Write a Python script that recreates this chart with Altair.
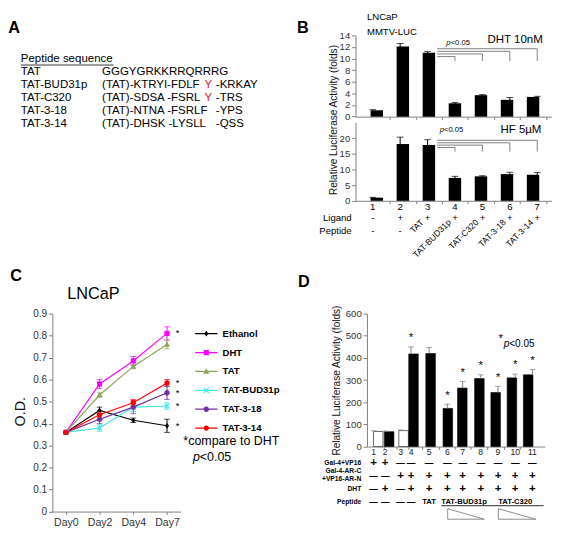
import math
import altair as alt
import pandas as pd

K = 0.97


def p(v):
    return round(v * K, 2)


FONT = "Liberation Sans"
GRAY = "#808080"

# ---------------- Panel A: peptide sequences ----------------
pep_names = ["TAT", "TAT-BUD31p", "TAT-C320", "TAT-3-18", "TAT-3-14"]
pep_head = ["GGGYGRKKRRQRRRG", "(TAT)-KTRYI-FDLF", "(TAT)-SDSA -FSRL",
            "(TAT)-NTNA -FSRLF", "(TAT)-DHSK -LYSLL"]
pep_red = ["", "Y", "Y", "", ""]
pep_tail = ["", "-KRKAY", "-TRS", "-YPS", "-QSS"]

# ---------------- Panel B: MMTV-LUC luciferase ----------------
b_lanes = [1, 2, 3, 4, 5, 6, 7]
b_dht_val = [1.1, 12.1, 11.0, 2.3, 3.7, 2.9, 3.4]
b_dht_err = [0.1, 0.5, 0.2, 0.15, 0.1, 0.4, 0.1]
b_hf_val = [1.0, 18.1, 17.8, 7.3, 7.8, 8.5, 8.3]
b_hf_err = [0.1, 2.2, 1.7, 0.5, 0.2, 0.6, 0.7]
b_ligand = ["-", "+", "+", "+", "+", "+", "+"]
b_peptide = ["-", "-", "TAT", "TAT-BUD31p", "TAT-C320", "TAT-3-18", "TAT-3-14"]
b_sig_from = 3
b_sig_lanes = [4, 5, 6, 7]
b_sig_dht_level = [10.35, 10.8, 11.25, 11.7]
b_sig_hf_level = [17.0, 17.75, 18.5, 19.3]
b_sig_dht_end = 9.6
b_sig_hf_end = 15.7

# ---------------- Panel C: LNCaP growth ----------------
c_days = ["Day0", "Day2", "Day4", "Day7"]
c_series = ["Ethanol", "DHT", "TAT", "TAT-BUD31p", "TAT-3-18", "TAT-3-14"]
c_od = [
    [0.36, 0.46, 0.415, 0.39],
    [0.36, 0.58, 0.685, 0.81],
    [0.36, 0.53, 0.66, 0.76],
    [0.36, 0.38, 0.475, 0.48],
    [0.36, 0.42, 0.475, 0.54],
    [0.36, 0.44, 0.495, 0.585],
]
c_err = [
    [0, 0.015, 0.01, 0.03],
    [0, 0.02, 0.02, 0.03],
    [0, 0.01, 0.01, 0.02],
    [0, 0.015, 0.02, 0.015],
    [0, 0.02, 0.03, 0.03],
    [0, 0.02, 0.015, 0.015],
]
c_star = [True, True, False, True, True, True]
c_colors = ["#000000", "#FF00FF", "#8EA45A", "#3CE6F0", "#7030A0", "#FF0000"]

# ---------------- Panel D: two-hybrid luciferase ----------------
d_lanes = list(range(1, 12))
d_slot = [1, 1.67, 2.56, 3.17, 4.22, 5.28, 6.17, 7.22, 8.22, 9.22, 10.22]
d_val = [68, 67, 72, 418, 420, 172, 264, 307, 244, 310, 324]
d_err = [3, 3, 3, 32, 27, 19, 30, 17, 28, 17, 24]
d_gal_vp16 = ["+", "+"] + ["—"] * 9
d_gal_ar = ["—", "—"] + ["+"] * 9
d_dht = ["—", "+", "—"] + ["+"] * 8
d_peptide = ["—"] * 4 + ["TAT"] + [""] * 6
d_sig = [False, False, False, True, False, True, True, True, True, True, True]
d_groups = ["TAT-BUD31p", "TAT-C320"]
d_group_first = [6, 9]
d_group_last = [8, 11]


def label(text, x, y, size, weight="normal", align="center", style="normal", color="black"):
    return alt.Chart(pd.DataFrame({"t": [text]})).mark_text(
        align=align, baseline="middle", fontSize=p(size), fontWeight=weight,
        fontStyle=style, color=color, font=FONT,
    ).encode(text="t:N", x=alt.value(p(x)), y=alt.value(p(y)))


# ======================= A (also carries the B-panel cell-line caption) =======================
a_df = pd.DataFrame({"name": pep_names, "head": pep_head, "red": pep_red, "tail": pep_tail})
a_y = alt.Y("name:N", sort=pep_names, axis=None,
            scale=alt.Scale(type="point", range=[p(38), p(93)], padding=0))
a_base = alt.Chart(a_df).mark_text(align="left", baseline="middle", fontSize=p(12), font=FONT)
A = alt.layer(
    label("A", -40, -8, 17, "bold"),
    label("Peptide sequence", -33, 25, 12, align="left"),
    alt.Chart(pd.DataFrame({"t": [0]})).mark_rule(color="black", strokeWidth=0.8).encode(
        x=alt.value(p(-33)), x2=alt.value(p(64)), y=alt.value(p(31))),
    a_base.encode(x=alt.value(p(-33)), y=a_y, text="name:N"),
    a_base.encode(x=alt.value(p(52)), y=a_y, text="head:N"),
    a_base.encode(x=alt.value(p(159)), y=a_y, text="red:N", color=alt.value("#E02028")),
    a_base.encode(x=alt.value(p(171)), y=a_y, text="tail:N"),
    label("LNCaP", 329, -19, 10, align="left"),
    label("MMTV-LUC", 329, -4, 10, align="left"),
).properties(width=p(134), height=p(173))

# ======================= B =======================
b_df = pd.DataFrame({"lane": b_lanes, "dht": b_dht_val, "dht_err": b_dht_err,
                     "hf": b_hf_val, "hf_err": b_hf_err,
                     "ligand": b_ligand, "peptide": b_peptide})
br_df = pd.DataFrame({"to": b_sig_lanes, "dht_lvl": b_sig_dht_level, "hf_lvl": b_sig_hf_level})
br_df["start"] = b_sig_from + 0.35
br_df["dht_end"] = b_sig_dht_end
br_df["hf_end"] = b_sig_hf_end
WB, HB = p(193), p(173)
HB_TOP, HB_BOT0 = p(85), p(91)
xB = alt.Scale(domain=[0.37, 7.52], range=[-p(12), WB], nice=False, zero=False)
yBt = alt.Scale(domain=[0, 14], range=[HB_TOP, 0], nice=False)
yBb = alt.Scale(domain=[0, 25], range=[HB, HB_BOT0], nice=False)
b_between = [l + 0.5 for l in b_lanes]


def b_subplot(field, err_field, lvl_field, end_field, yscale, yaxis, xaxis):
    base = alt.Chart(b_df)
    xe = alt.X("lane:Q", scale=xB, axis=None)
    bars = base.mark_bar(color="black", size=p(13)).encode(
        x=alt.X("lane:Q", scale=xB, axis=xaxis),
        y=alt.Y(f"{field}:Q", scale=yscale, axis=yaxis))
    ranged = base.transform_calculate(
        lo=f"datum.{field} - datum.{err_field}", hi=f"datum.{field} + datum.{err_field}")
    errs = ranged.mark_rule(color="black", strokeWidth=1).encode(
        x=xe, y=alt.Y("lo:Q", scale=yscale, axis=None), y2="hi:Q")
    caps = ranged.mark_tick(orient="horizontal", color="black", thickness=1, size=p(7)).encode(
        x=xe, y=alt.Y("hi:Q", scale=yscale, axis=None))
    hbr = alt.Chart(br_df).mark_rule(color=GRAY, strokeWidth=1).encode(
        x=alt.X("start:Q", scale=xB, axis=None), x2="to:Q",
        y=alt.Y(f"{lvl_field}:Q", scale=yscale, axis=None))
    vbr = alt.Chart(br_df).mark_rule(color=GRAY, strokeWidth=1).encode(
        x=alt.X("to:Q", scale=xB, axis=None),
        y=alt.Y(f"{lvl_field}:Q", scale=yscale, axis=None),
        y2=f"{end_field}:Q")
    return [bars, errs, caps, hbr, vbr]


ax_lab = dict(labelFontSize=p(10), tickSize=p(4), labelPadding=p(2), labelOverlap=False,
              offset=p(12))
rows_b = alt.Chart(b_df)
xBr = alt.X("lane:Q", scale=xB, axis=None)
B = alt.layer(
    *b_subplot(
        "dht", "dht_err", "dht_lvl", "dht_end", yBt,
        alt.Axis(orient="left", values=list(range(0, 15, 2)),
                 title="Relative Luciferase Activity (folds)", titleX=p(-23), titleY=p(88),
                 titleAngle=270, titleAlign="center", titleBaseline="middle",
                 titleFontSize=p(10.5), **ax_lab),
        alt.Axis(orient="bottom", values=b_between, labels=False, title=None,
                 tickSize=p(3), offset=-(HB - HB_TOP))),
    *b_subplot(
        "hf", "hf_err", "hf_lvl", "hf_end", yBb,
        alt.Axis(orient="left", values=list(range(0, 21, 5)), title=None, **ax_lab),
        alt.Axis(orient="bottom", values=b_between, labels=False, title=None, tickSize=p(3))),
    label("B", -67, -8, 17, "bold"),
    label("DHT 10nM", 155, 5, 12),
    label("p", 83, 8, 8, style="italic", align="left"),
    label("<0.05", 87.5, 8, 8, align="left"),
    label("HF 5µM", 161, 99, 12),
    label("p", 76, 99, 8, style="italic", align="left"),
    label("<0.05", 80.5, 99, 8, align="left"),
    rows_b.mark_text(fontSize=p(10), baseline="middle", font=FONT).encode(
        x=xBr, y=alt.value(p(180)), text="lane:Q"),
    rows_b.mark_text(fontSize=p(10), baseline="middle", font=FONT).encode(
        x=xBr, y=alt.value(p(191)), text="ligand:N"),
    rows_b.transform_filter("datum.peptide == '-'").mark_text(
        fontSize=p(10), baseline="middle", font=FONT).encode(
        x=xBr, y=alt.value(p(205)), text="peptide:N"),
    rows_b.transform_filter("datum.peptide != '-'").transform_calculate(
        lx="datum.lane - 0.2").mark_text(
        angle=315, align="right", baseline="middle", fontSize=p(9), font=FONT).encode(
        x=alt.X("lx:Q", scale=xB, axis=None), y=alt.value(p(194)), text="peptide:N"),
    label("Ligand", -16, 191, 10, align="right"),
    label("Peptide", -16, 205, 10, align="right"),
).resolve_scale(x="independent", y="independent").properties(width=WB, height=HB)

# ======================= C =======================
c_rows = []
for si, s in enumerate(c_series):
    for di, d in enumerate(c_days):
        c_rows.append({"series": s, "day": d, "od": c_od[si][di],
                       "err": c_err[si][di], "star": c_star[si]})
c_df = pd.DataFrame(c_rows)

mk_diamond = "M0,-1L0.72,0L0,1L-0.72,0Z"
mk_square = "M-0.9,-0.9H0.9V0.9H-0.9Z"
mk_triangle = "M0,-1.1L1.05,0.8H-1.05Z"
mk_x = ("M-1,-0.72L-0.72,-1L0,-0.28L0.72,-1L1,-0.72L0.28,0L1,0.72L0.72,1"
        "L0,0.28L-0.72,1L-1,0.72L-0.28,0Z")
mk_circle = "M-0.95,0A0.95,0.95,0,1,1,0.95,0A0.95,0.95,0,1,1,-0.95,0Z"
c_markers = [mk_diamond, mk_square, mk_triangle, mk_x, mk_circle, mk_circle]
seg = "M-3.9,-0.22H3.9V0.22H-3.9Z "
c_legend_symbols = [seg + m for m in c_markers]

WC, HC = p(134), p(207)
xC = alt.Scale(type="point", domain=c_days, padding=0.4)
yC = alt.Scale(domain=[0, 0.9], nice=False)
colC = alt.Scale(domain=c_series, range=c_colors)
cX_axis = alt.X("day:N", sort=c_days, scale=xC, axis=alt.Axis(
    orient="bottom", title=None, labelAngle=0, labelOverlap=False,
    labelFontSize=p(11), tickSize=p(3), labelPadding=p(3)))
cY_axis = alt.Y("od:Q", scale=yC, axis=alt.Axis(
    orient="left", values=[round(i * 0.1, 1) for i in range(10)], format=".1~f",
    title="O.D.", titleFontSize=p(15), titleX=p(-33), titleY=p(102), titleAngle=270,
    titleAlign="center", titleBaseline="middle", labelFontSize=p(10.5), tickSize=p(4),
    labelPadding=p(2), labelOverlap=False))
cX = alt.X("day:N", sort=c_days, scale=xC, axis=None)
cY = alt.Y("od:Q", scale=yC, axis=None)
cCol = alt.Color("series:N", scale=colC, legend=None)

c_base = alt.Chart(c_df)
c_rng = c_base.transform_filter("datum.err > 0").transform_calculate(
    lo="datum.od - datum.err", hi="datum.od + datum.err")
leg = alt.Legend(title=None, orient="none", legendX=p(156), legendY=p(16), padding=0,
                 labelFont=FONT, labelFontWeight="bold", labelFontSize=p(10),
                 labelColor="black", symbolSize=36 * K * K, symbolStrokeWidth=0,
                 symbolOpacity=1, labelOffset=p(12), rowPadding=p(8.4))
C = alt.layer(
    c_base.mark_line(strokeWidth=p(1.2)).encode(x=cX_axis, y=cY_axis, color=cCol),
    c_rng.mark_rule(strokeWidth=1).encode(
        x=cX, y=alt.Y("lo:Q", scale=yC, axis=None), y2="hi:Q", color=cCol),
    c_rng.mark_tick(orient="horizontal", thickness=1, size=p(6)).encode(
        x=cX, y=alt.Y("lo:Q", scale=yC, axis=None), color=cCol),
    c_rng.mark_tick(orient="horizontal", thickness=1, size=p(6)).encode(
        x=cX, y=alt.Y("hi:Q", scale=yC, axis=None), color=cCol),
    c_base.mark_point(filled=True, opacity=1, size=36 * K * K).encode(
        x=cX, y=cY, color=cCol,
        shape=alt.Shape("series:N", scale=alt.Scale(domain=c_series, range=c_markers),
                        legend=None)),
    c_base.transform_filter("datum.star && datum.day == 'Day7'").mark_text(
        dx=p(11), baseline="middle", fontSize=p(10), font=FONT, color="black").encode(
        x=cX, y=cY, text=alt.value("*")),
    c_base.transform_filter("datum.err < 0").mark_point(filled=True, opacity=1).encode(
        x=cX, y=cY,
        fill=alt.Fill("series:N", scale=alt.Scale(domain=c_series, range=c_colors), legend=leg),
        shape=alt.Shape("series:N", scale=alt.Scale(domain=c_series, range=c_legend_symbols),
                        legend=leg)),
    label("C", -38, -39, 17, "bold"),
    label("LNCaP", 43, -20, 17),
    label("*compare to DHT", 137, 133, 13, align="left"),
    label("p", 147, 150, 13, style="italic", align="left"),
    label("<0.05", 154.2, 150, 13, align="left"),
).resolve_scale(x="independent", y="independent", shape="independent",
                fill="independent").properties(width=WC, height=HC)

# ======================= D =======================
d_df = pd.DataFrame({"lane": d_lanes, "slot": d_slot, "val": d_val, "err": d_err,
                     "gal_vp16": d_gal_vp16, "gal_ar": d_gal_ar, "dht": d_dht,
                     "peptide": d_peptide, "sig": d_sig})
g_rows = []
for name, f, l in zip(d_groups, d_group_first, d_group_last):
    s0, s1 = d_slot[f - 1], d_slot[l - 1]
    g_rows.append({"group": name, "mid": (s0 + s1) / 2, "u0": s0 - 0.35, "u1": s1 + 0.65,
                   "w0": s0 + 0.02, "w1": s1 + 0.2})
g_df = pd.DataFrame(g_rows)

WD, HD = p(186), p(139)
xD = alt.Scale(domain=[0.61, 10.94], nice=False, zero=False)
yD = alt.Scale(domain=[0, 600], nice=False)
d_mid = [round((a + b) / 2, 3) for a, b in zip(d_slot, d_slot[1:])]
dX = alt.X("slot:Q", scale=xD, axis=None)
d_base = alt.Chart(d_df)
d_rng = d_base.transform_calculate(hi="datum.val + datum.err")


def d_row(field, y):
    return d_base.mark_text(baseline="middle", fontWeight="bold", font=FONT).encode(
        x=dX, y=alt.value(p(y)), text=f"{field}:N",
        size=alt.condition(f"datum.{field} == '+'", alt.value(p(12)), alt.value(p(9))))


wedge_rule = alt.Chart(g_df).mark_rule(color="#707070", strokeWidth=0.8)
D = alt.layer(
    d_base.mark_bar(size=p(10), stroke="black", strokeWidth=0.6).encode(
        x=alt.X("slot:Q", scale=xD, axis=alt.Axis(
            orient="bottom", values=d_mid, labels=False, title=None, tickSize=p(3))),
        y=alt.Y("val:Q", scale=yD, axis=None),
        fill=alt.Fill("dht:N", scale=alt.Scale(domain=["—", "+"], range=["white", "black"]),
                      legend=None)),
    d_rng.mark_rule(color=GRAY, strokeWidth=1).encode(
        x=dX,
        y=alt.Y("val:Q", scale=yD, axis=alt.Axis(
            orient="left", values=list(range(0, 601, 100)),
            title="Relative Luciferase Activity (folds)", titlePadding=p(4),
            titleFontSize=p(10.5), labelFontSize=p(10), tickSize=p(4), labelPadding=p(2),
            labelOverlap=False)),
        y2="hi:Q"),
    d_rng.mark_tick(orient="horizontal", color=GRAY, thickness=1, size=p(6)).encode(
        x=dX, y=alt.Y("hi:Q", scale=yD, axis=None)),
    d_rng.transform_filter("datum.sig").mark_text(
        dy=-p(9), fontSize=p(12), baseline="middle", font=FONT, color="black").encode(
        x=dX, y=alt.Y("hi:Q", scale=yD, axis=None), text=alt.value("*")),
    d_base.mark_text(fontSize=p(9), baseline="middle", font=FONT, color="#222").encode(
        x=dX, y=alt.value(p(144.5)), text="lane:Q"),
    d_row("gal_vp16", 156),
    d_row("gal_ar", 169.5),
    d_row("dht", 183),
    d_base.mark_text(baseline="middle", fontWeight="bold", font=FONT).encode(
        x=dX, y=alt.value(p(196.7)), text="peptide:N",
        size=alt.condition("datum.peptide == '—'", alt.value(p(9)), alt.value(p(8)))),
    alt.Chart(g_df).mark_text(baseline="middle", fontWeight="bold", font=FONT,
                              fontSize=p(8)).encode(
        x=alt.X("mid:Q", scale=xD, axis=None), y=alt.value(p(196.7)), text="group:N"),
    alt.Chart(g_df).mark_rule(color="#555555", strokeWidth=p(1.3)).encode(
        x=alt.X("u0:Q", scale=xD, axis=None), x2="u1:Q", y=alt.value(p(200.7))),
    wedge_rule.encode(x=alt.X("w0:Q", scale=xD, axis=None), x2="w1:Q",
                      y=alt.value(p(204)), y2=alt.value(p(215))),
    wedge_rule.encode(x=alt.X("w0:Q", scale=xD, axis=None),
                      y=alt.value(p(204)), y2=alt.value(p(215))),
    wedge_rule.encode(x=alt.X("w0:Q", scale=xD, axis=None), x2="w1:Q",
                      y=alt.value(p(215))),
    label("Gal-4+VP16", -6, 156, 7, "bold", align="right"),
    label("Gal-4-AR-C", -6, 164.3, 7, "bold", align="right"),
    label("+VP16-AR-N", -6, 172.7, 7, "bold", align="right"),
    label("DHT", -6, 183, 7, "bold", align="right"),
    label("Peptide", -6, 196.7, 7, "bold", align="right"),
    label("D", -66, -33, 17, "bold"),
    label("*", 140, 27, 12),
    label("p", 143, 32, 10.5, style="italic", align="left"),
    label("<0.05", 148.8, 32, 10.5, align="left"),
).resolve_scale(x="independent", y="independent").properties(width=WD, height=HD)

col_gap = p(329) - math.ceil(p(134))
row_gap = p(291) - math.ceil(p(173))
chart = alt.concat(
    A, B, C, D, columns=2,
    spacing={"row": row_gap, "column": col_gap},
    bounds="flush", align="each",
).resolve_scale(
    color="independent", fill="independent", shape="independent",
).properties(padding=0, background="white").configure_axis(
    labelFont=FONT, titleFont=FONT, domainColor=GRAY, tickColor=GRAY, labelColor="#333333",
    titleColor="#111111", grid=False, titleFontWeight="normal",
).configure_view(stroke=None).configure_text(font=FONT)

chart.save("out.html", embed_options={"renderer": "svg", "actions": False})
